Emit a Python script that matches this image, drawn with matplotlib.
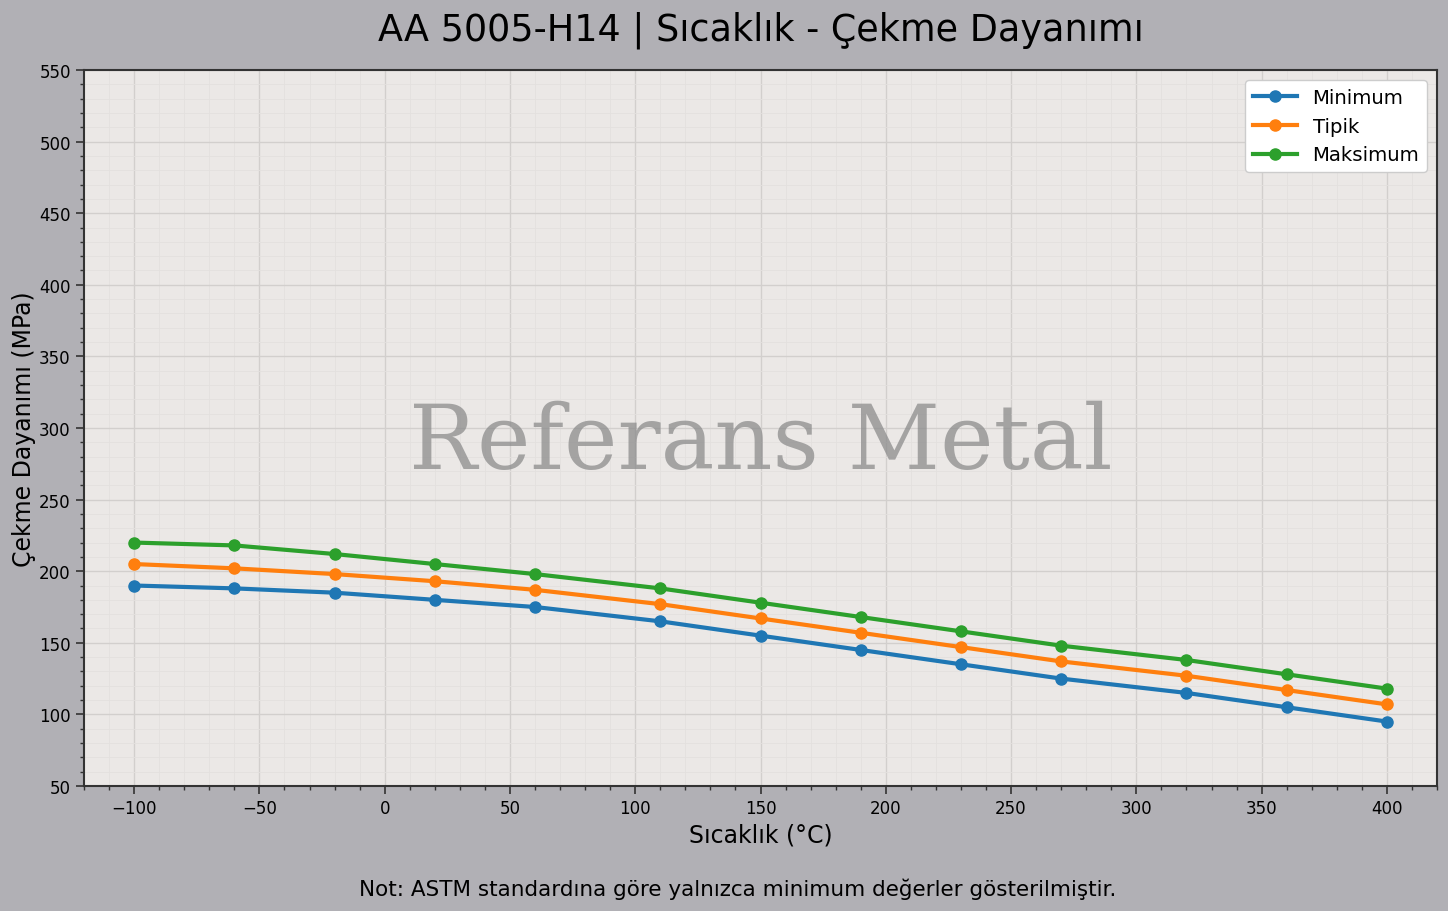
import matplotlib
matplotlib.use("Agg")
import matplotlib.pyplot as plt
from matplotlib.ticker import MultipleLocator

temps = [-100, -60, -20, 20, 60, 110, 150, 190, 230, 270, 320, 360, 400]
minimum = [190, 188, 185, 180, 175, 165, 155, 145, 135, 125, 115, 105, 95]
tipik = [205, 202, 198, 193, 187, 177, 167, 157, 147, 137, 127, 117, 107]
maksimum = [220, 218, 212, 205, 198, 188, 178, 168, 158, 148, 138, 128, 118]
series_names = ["Minimum", "Tipik", "Maksimum"]

title = "AA 5005-H14 | Sıcaklık - Çekme Dayanımı"
xlabel = "Sıcaklık (°C)"
ylabel = "Çekme Dayanımı (MPa)"
note = "Not: ASTM standardına göre yalnızca minimum değerler gösterilmiştir."
watermark = "Referans Metal"

fig = plt.figure(figsize=(14.48, 9.12), dpi=100, facecolor="#b1b0b5")
ax = fig.add_axes([84/1448, 1-787/912, (1437-84)/1448, (787-71)/912])
ax.set_facecolor("#ebe8e6")

colors = ["#1f77b4", "#ff7f0e", "#2ca02c"]
for vals, name, c in zip([minimum, tipik, maksimum], series_names, colors):
    ax.plot(temps, vals, "-o", color=c, lw=3, ms=8, label=name, zorder=3)

ax.set_xlim(-120, 420)
ax.set_ylim(50, 550)
ax.xaxis.set_major_locator(MultipleLocator(50))
ax.yaxis.set_major_locator(MultipleLocator(50))
ax.xaxis.set_minor_locator(MultipleLocator(10))
ax.yaxis.set_minor_locator(MultipleLocator(10))
ax.grid(which="major", color="#d2cfcd", lw=1.0, zorder=0)
ax.grid(which="minor", color="#e3e0de", lw=0.6, zorder=0)
ax.set_axisbelow(True)
ax.tick_params(axis="both", which="major", labelsize=12, length=6, width=1.2, color="#333333")
ax.tick_params(axis="both", which="minor", length=3, width=1.0, color="#333333")
for s in ax.spines.values():
    s.set_color("#333333")
    s.set_linewidth(1.5)

ax.set_title(title, fontsize=26.3, pad=22)
ax.set_xlabel(xlabel, fontsize=17, labelpad=4)
ax.set_ylabel(ylabel, fontsize=17, labelpad=2.5)

ax.text(0.5, 0.479, watermark, transform=ax.transAxes, ha="center", va="center",
        fontsize=65, family="DejaVu Serif", color="#8c8c8c", alpha=0.75, zorder=1)

leg = ax.legend(loc="upper right", fontsize=14.2, frameon=True, fancybox=True,
                handlelength=2.2, facecolor="white", edgecolor="#cccccc", framealpha=1.0)

fig.text(738/1448, 1-889/912, note, ha="center", va="center", fontsize=15.5)

fig.savefig("out.png", dpi=100, facecolor=fig.get_facecolor())
